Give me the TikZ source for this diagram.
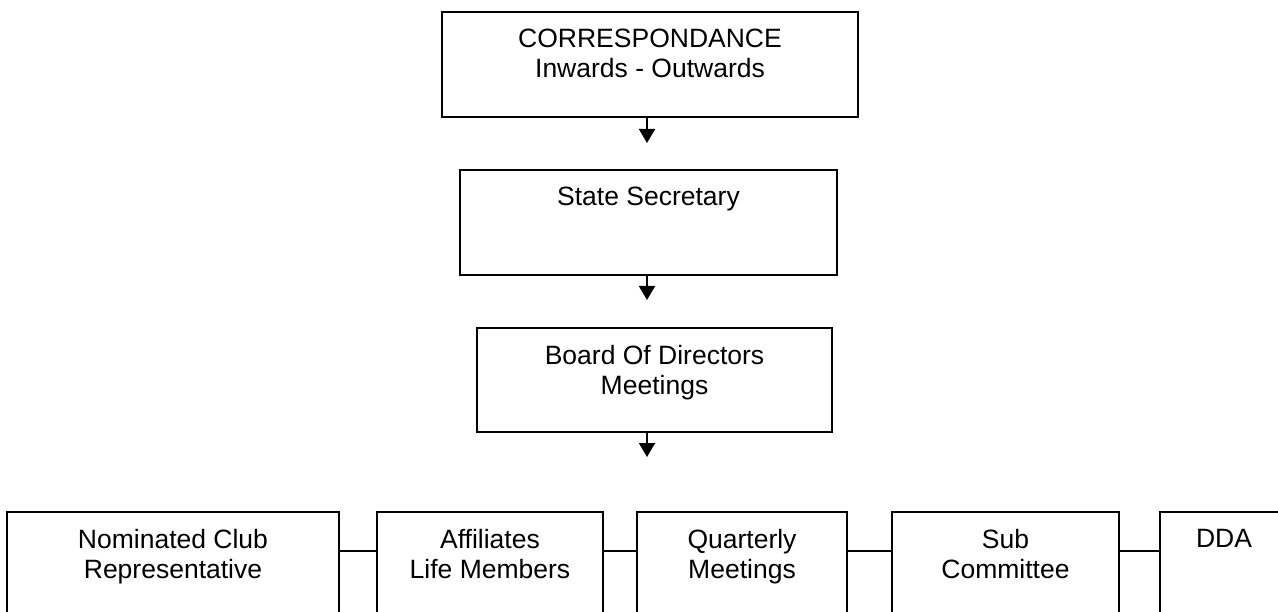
\documentclass[tikz,border=0pt]{standalone}
\usepackage{fontspec}
\setmainfont{Liberation Sans}
\usetikzlibrary{arrows.meta}
\tikzset{
  boxshape/.style={draw=black, line width=1.8pt, rectangle, inner sep=0pt, outer sep=0pt},
  lbl/.style={anchor=north, inner sep=0pt, yshift=-17pt, align=center,
    font=\fontsize{26.5}{30}\selectfont, text=black},
  arr/.style={line width=1.8pt, -{Triangle[length=14pt,width=16pt]}},
  link/.style={line width=1.8pt}
}
\begin{document}
\begin{tikzpicture}[x=1pt,y=-1pt]
\useasboundingbox (0,0) rectangle (1278,612);
\clip (0,0) rectangle (1278,612);
\fill[white] (0,0) rectangle (1278,612);

\node[boxshape, minimum width=416pt, minimum height=105pt,
  label={[lbl]north:CORRESPONDANCE\\Inwards - Outwards}] (t1) at (650,64.5) {};
\node[boxshape, minimum width=377pt, minimum height=105pt,
  label={[lbl]north:State Secretary}] (t2) at (648.5,222.5) {};
\node[boxshape, minimum width=355pt, minimum height=104pt,
  label={[lbl]north:Board Of Directors\\Meetings}] (t3) at (654.5,380) {};

\node[boxshape, minimum width=332pt, minimum height=140pt,
  label={[lbl]north:Nominated Club\\Representative}] (b1) at (173,582) {};
\node[boxshape, minimum width=226pt, minimum height=140pt,
  label={[lbl]north:Affiliates\\Life Members}] (b2) at (490,582) {};
\node[boxshape, minimum width=210pt, minimum height=140pt,
  label={[lbl]north:Quarterly\\Meetings}] (b3) at (742,582) {};
\node[boxshape, minimum width=227pt, minimum height=140pt,
  label={[lbl]north:Sub\\Committee}] (b4) at (1005.5,582) {};
\node[boxshape, minimum width=128pt, minimum height=140pt,
  label={[lbl]north:DDA}] (b5) at (1224,582) {};

\coordinate (e1) at (647,143);
\coordinate (e2) at (647,300);
\coordinate (e3) at (647,457);
\draw[arr] (t1.south -| e1) -- (e1);
\draw[arr] (t2.south -| e2) -- (e2);
\draw[arr] (t3.south -| e3) -- (e3);

\draw[link] ([yshift=-39pt]b1.north east) -- ([yshift=-39pt]b2.north west);
\draw[link] ([yshift=-39pt]b2.north east) -- ([yshift=-39pt]b3.north west);
\draw[link] ([yshift=-39pt]b3.north east) -- ([yshift=-39pt]b4.north west);
\draw[link] ([yshift=-39pt]b4.north east) -- ([yshift=-39pt]b5.north west);
\end{tikzpicture}
\end{document}
